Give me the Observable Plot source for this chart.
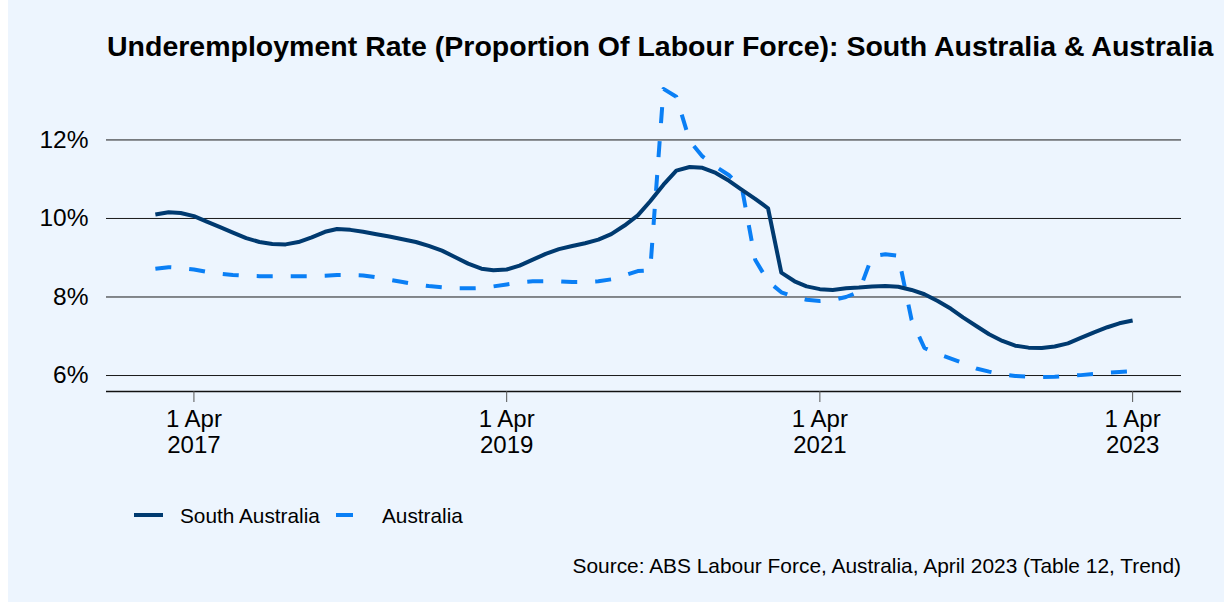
<!DOCTYPE html>
<html>
<head>
<meta charset="utf-8">
<script src="https://cdn.jsdelivr.net/npm/d3@7"></script>
<script src="https://cdn.jsdelivr.net/npm/@observablehq/plot@0.6"></script>
<style>
  html, body { margin: 0; padding: 0; background: #ffffff; }
  #wrap { position: absolute; left: 8px; top: 0; width: 1216px; height: 602px; background: #edf5fe; overflow: hidden; font-family: "Liberation Sans", Arial, sans-serif; color: #000; }
  #title { position: absolute; left: 99px; top: 31.5px; font-size: 28.5px; font-weight: bold; white-space: nowrap; line-height: 28.5px; }
  #chart { position: absolute; left: -8px; top: 64px; }
  #legend { position: absolute; left: 0; top: 502px; height: 26px; width: 600px; }
  .key { position: absolute; top: 0; }
  .lab { position: absolute; top: 2px; font-size: 20.8px; line-height: 24px; white-space: nowrap; }
  #source { position: absolute; right: 43px; top: 554px; font-size: 20.9px; line-height: 24px; white-space: nowrap; }
</style>
</head>
<body>
<div id="wrap">
  <div id="title">Underemployment Rate (Proportion Of Labour Force): South Australia &amp; Australia</div>
  <div id="chart"></div>
  <div id="legend"></div>
  <div id="source">Source: ABS Labour Force, Australia, April 2023 (Table 12, Trend)</div>
</div>
<script>
// Monthly data, January 2017 to April 2023 (per cent of labour force)
const startYear = 2017, startMonth = 0;
const southAustralia = [
  10.10, 10.16, 10.14, 10.06, 9.92, 9.78, 9.64, 9.50, 9.40, 9.35, 9.34, 9.40,
  9.52, 9.66, 9.73, 9.71, 9.66, 9.60, 9.54, 9.47, 9.40, 9.30, 9.18, 9.02,
  8.85, 8.72, 8.68, 8.70, 8.80, 8.95, 9.10, 9.22, 9.30, 9.37, 9.46, 9.60,
  9.82, 10.08, 10.44, 10.86, 11.22, 11.31, 11.29, 11.16, 10.96, 10.73, 10.50, 10.26,
  8.62, 8.40, 8.27, 8.20, 8.18, 8.22, 8.24, 8.27, 8.28, 8.26, 8.18, 8.07,
  7.90, 7.70, 7.48, 7.26, 7.05, 6.88, 6.76, 6.71, 6.70, 6.74, 6.82, 6.96,
  7.10, 7.23, 7.33, 7.40
];
const australia = [
  8.72, 8.76, 8.74, 8.70, 8.64, 8.59, 8.56, 8.54, 8.53, 8.53, 8.53, 8.53,
  8.53, 8.54, 8.56, 8.56, 8.55, 8.50, 8.44, 8.38, 8.32, 8.28, 8.25, 8.22,
  8.22, 8.23, 8.27, 8.32, 8.37, 8.40, 8.40, 8.40, 8.38, 8.38, 8.40, 8.45,
  8.55, 8.66, 8.68, 13.30, 13.10, 11.98, 11.58, 11.32, 11.10, 10.78, 8.95, 8.40,
  8.12, 8.00, 7.93, 7.90, 7.92, 8.00, 8.13, 9.04, 9.09, 9.05, 7.42, 6.70,
  6.55, 6.43, 6.32, 6.18, 6.10, 6.03, 5.99, 5.97, 5.96, 5.97, 5.99, 6.01,
  6.04, 6.07, 6.09, 6.11
];
const seriesNames = ["South Australia", "Australia"];
const seriesColors = ["#003a70", "#0a7ff5"];
const tickYears = [2017, 2019, 2021, 2023];
const yTicks = [6, 8, 10, 12];

const dates = southAustralia.map((_, i) => new Date(Date.UTC(startYear, startMonth + i, 1)));
const rows = [];
dates.forEach((d, i) => {
  rows.push({date: d, value: southAustralia[i], series: seriesNames[0]});
  rows.push({date: d, value: australia[i], series: seriesNames[1]});
});

// ggplot-like 5% expansion
const x0 = +dates[0], x1 = +dates[dates.length - 1];
const xpad = (x1 - x0) * 0.05;
const allVals = southAustralia.concat(australia);
const vmin = d3.min(allVals), vmax = d3.max(allVals);
const ypad = (vmax - vmin) * 0.05;

const xTicks = tickYears.map(y => new Date(Date.UTC(y, 3, 1)));

const chart = Plot.plot({
  width: 1224,
  height: 400,
  marginLeft: 106,
  marginRight: 43,
  marginTop: 10,
  marginBottom: 73,
  style: {background: "transparent", fontFamily: "'Liberation Sans', Arial, sans-serif", color: "#000", overflow: "visible"},
  x: {type: "utc", domain: [new Date(x0 - xpad), new Date(x1 + xpad)]},
  y: {domain: [vmin - ypad, vmax + ypad]},
  marks: [
    Plot.ruleY(yTicks, {stroke: "#1a1a1a", strokeWidth: 1, strokeOpacity: 1}),
    Plot.ruleY([vmin - ypad], {stroke: "#111", strokeWidth: 1.5}),
    Plot.axisY({ticks: yTicks, tickFormat: d => d + "%", tickSize: 0, tickPadding: 18, fontSize: 24.5, label: null}),
    Plot.axisX({ticks: xTicks, tickFormat: d => "1 Apr\n" + d.getUTCFullYear(), tickSize: 11, tickPadding: 5, fontSize: 24, lineHeight: 1.12, label: null, stroke: "#555"}),
    Plot.line(rows.filter(r => r.series === seriesNames[1]), {x: "date", y: "value", stroke: seriesColors[1], strokeWidth: 4, strokeDasharray: "16,18", strokeLinecap: "butt", strokeLinejoin: "round"}),
    Plot.line(rows.filter(r => r.series === seriesNames[0]), {x: "date", y: "value", stroke: seriesColors[0], strokeWidth: 4, strokeLinecap: "butt", strokeLinejoin: "round"})
  ]
});
document.getElementById("chart").appendChild(chart);

// Legend
const legend = document.getElementById("legend");
const keyX = [126, 328], labX = [172, 374];
seriesNames.forEach((name, i) => {
  const svg = document.createElementNS("http://www.w3.org/2000/svg", "svg");
  svg.setAttribute("width", 30); svg.setAttribute("height", 26);
  svg.setAttribute("class", "key");
  svg.style.left = keyX[i] + "px";
  const ln = document.createElementNS("http://www.w3.org/2000/svg", "line");
  ln.setAttribute("x1", 0); ln.setAttribute("x2", 29); ln.setAttribute("y1", 13); ln.setAttribute("y2", 13);
  ln.setAttribute("stroke", seriesColors[i]); ln.setAttribute("stroke-width", 4);
  if (i === 1) ln.setAttribute("stroke-dasharray", "17,18");
  svg.appendChild(ln);
  legend.appendChild(svg);
  const lab = document.createElement("div");
  lab.className = "lab"; lab.style.left = labX[i] + "px"; lab.textContent = name;
  legend.appendChild(lab);
});
</script>
</body>
</html>
